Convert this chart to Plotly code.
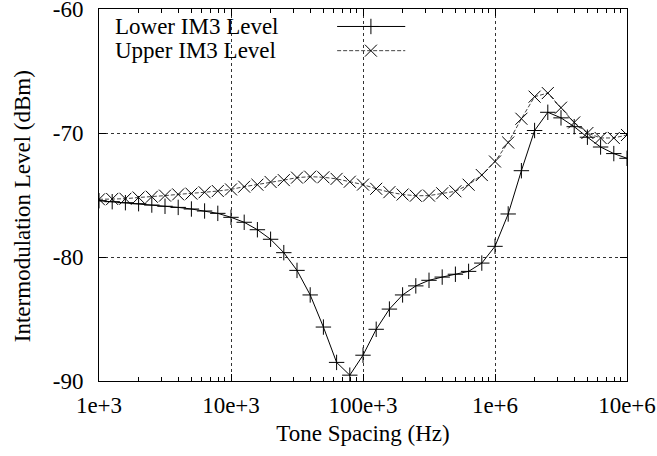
import numpy as np
import plotly.graph_objects as go

# Tone spacing points: 10 per decade from 1e3 to 1e7
exponents = [3 + k / 10 for k in range(41)]
tone_spacing = [10 ** e for e in exponents]

lower_im3 = [-75.46, -75.54, -75.62, -75.70, -75.81, -75.91, -76.00, -76.13, -76.29, -76.48,
             -76.80, -77.20, -77.80, -78.57, -79.65, -81.08, -83.06, -85.65, -88.50, -89.53,
             -87.92, -85.83, -84.20, -83.06, -82.33, -81.88, -81.62, -81.39, -81.16, -80.49,
             -79.14, -76.53, -73.04, -69.80, -68.33, -68.78, -69.49, -70.34, -71.13, -71.66,
             -72.04]

upper_im3 = [-75.35, -75.32, -75.30, -75.20, -75.14, -75.05, -74.95, -74.89, -74.78, -74.68,
             -74.55, -74.33, -74.17, -73.95, -73.80, -73.60, -73.52, -73.57, -73.70, -73.93,
             -74.16, -74.50, -74.77, -74.96, -75.06, -75.05, -74.86, -74.70, -74.17, -73.39,
             -72.30, -70.77, -68.85, -67.07, -66.78, -67.96, -69.15, -70.00, -70.40, -70.40,
             -70.16]

x_tickvals = [1e3, 1e4, 1e5, 1e6, 1e7]
x_ticktext = ["1e+3", "10e+3", "100e+3", "1e+6", "10e+6"]
y_tickvals = [-90, -80, -70, -60]
y_ticktext = ["-90", "-80", "-70", "-60"]

series_names = ["Lower IM3 Level", "Upper IM3 Level"]
x_title = "Tone Spacing (Hz)"
y_title = "Intermodulation Level (dBm)"

FONT = "Liberation Serif, Times New Roman, serif"
FS = 23

fig = go.Figure()

fig.add_trace(go.Scatter(
    x=tone_spacing, y=lower_im3, mode="lines+markers", name=series_names[0],
    line=dict(color="black", width=1),
    marker=dict(symbol="cross-thin-open", size=11, color="black",
                line=dict(color="black", width=1)),
    showlegend=False,
))
fig.add_trace(go.Scatter(
    x=tone_spacing, y=upper_im3, mode="lines+markers", name=series_names[1],
    line=dict(color="#444444", width=1, dash="4px,2px"),
    marker=dict(symbol="x-thin-open", size=12, color="black",
                line=dict(color="black", width=1)),
    showlegend=False,
))

# Legend samples drawn on a hidden overlay axis (gnuplot style: text left, sample right)
legend_y = [0.953, 0.888]
sample_x = [0.451, 0.58]
sample_mid = 0.515
styles = [
    dict(line=dict(color="black", width=1),
         marker=dict(symbol="cross-thin-open", size=11, color="black", line=dict(color="black", width=1))),
    dict(line=dict(color="#444444", width=1, dash="4px,2px"),
         marker=dict(symbol="x-thin-open", size=12, color="black", line=dict(color="black", width=1))),
]
for i, name in enumerate(series_names):
    fig.add_trace(go.Scatter(
        x=sample_x, y=[legend_y[i]] * 2, mode="lines", line=styles[i]["line"],
        xaxis="x2", yaxis="y2", showlegend=False, hoverinfo="skip"))
    fig.add_trace(go.Scatter(
        x=[sample_mid], y=[legend_y[i]], mode="markers", marker=styles[i]["marker"],
        xaxis="x2", yaxis="y2", showlegend=False, hoverinfo="skip"))
    fig.add_annotation(
        x=0.0265, y=legend_y[i], xref="paper", yref="paper", text=name,
        showarrow=False, xanchor="left", yanchor="middle",
        font=dict(family=FONT, size=FS, color="black"))

# Y axis title (placed like gnuplot's ylabel)
fig.add_annotation(
    x=-0.1458, y=0.470, xref="paper", yref="paper", text=y_title,
    textangle=-90, showarrow=False, xanchor="center", yanchor="middle",
    font=dict(family=FONT, size=FS, color="black"))

fig.update_layout(
    width=657, height=456,
    margin=dict(l=99, r=30, t=9, b=75),
    paper_bgcolor="white", plot_bgcolor="white",
    font=dict(family=FONT, size=FS, color="black"),
    showlegend=False,
    xaxis=dict(
        type="log", range=[3, 7], automargin=False,
        tickvals=x_tickvals, ticktext=x_ticktext,
        ticks="inside", ticklen=7, tickcolor="black",
        minor=dict(ticks="inside", ticklen=4, tickcolor="black", dtick="D1", showgrid=False),
        showline=True, linecolor="black", linewidth=1, mirror="ticks",
        showgrid=True, gridcolor="#333333", griddash="dot", gridwidth=1,
        zeroline=False,
        ticklabelstandoff=3, ticklabeloverflow="allow",
        title=dict(text=x_title, standoff=8,
                   font=dict(family=FONT, size=FS)),
    ),
    yaxis=dict(
        range=[-90, -60], automargin=False,
        tickvals=y_tickvals, ticktext=y_ticktext,
        ticks="inside", ticklen=7, tickcolor="black",
        showline=True, linecolor="black", linewidth=1, mirror="ticks",
        showgrid=True, gridcolor="#333333", griddash="dot", gridwidth=1,
        zeroline=False,
        ticklabelstandoff=10, ticklabeloverflow="allow",
    ),
    xaxis2=dict(overlaying="x", range=[0, 1], visible=False, fixedrange=True),
    yaxis2=dict(overlaying="y", range=[0, 1], visible=False, fixedrange=True),
)

fig.write_html("out.html", config={"displayModeBar": False},
               post_script="document.body.style.margin='0px';document.body.style.overflow='hidden';")
